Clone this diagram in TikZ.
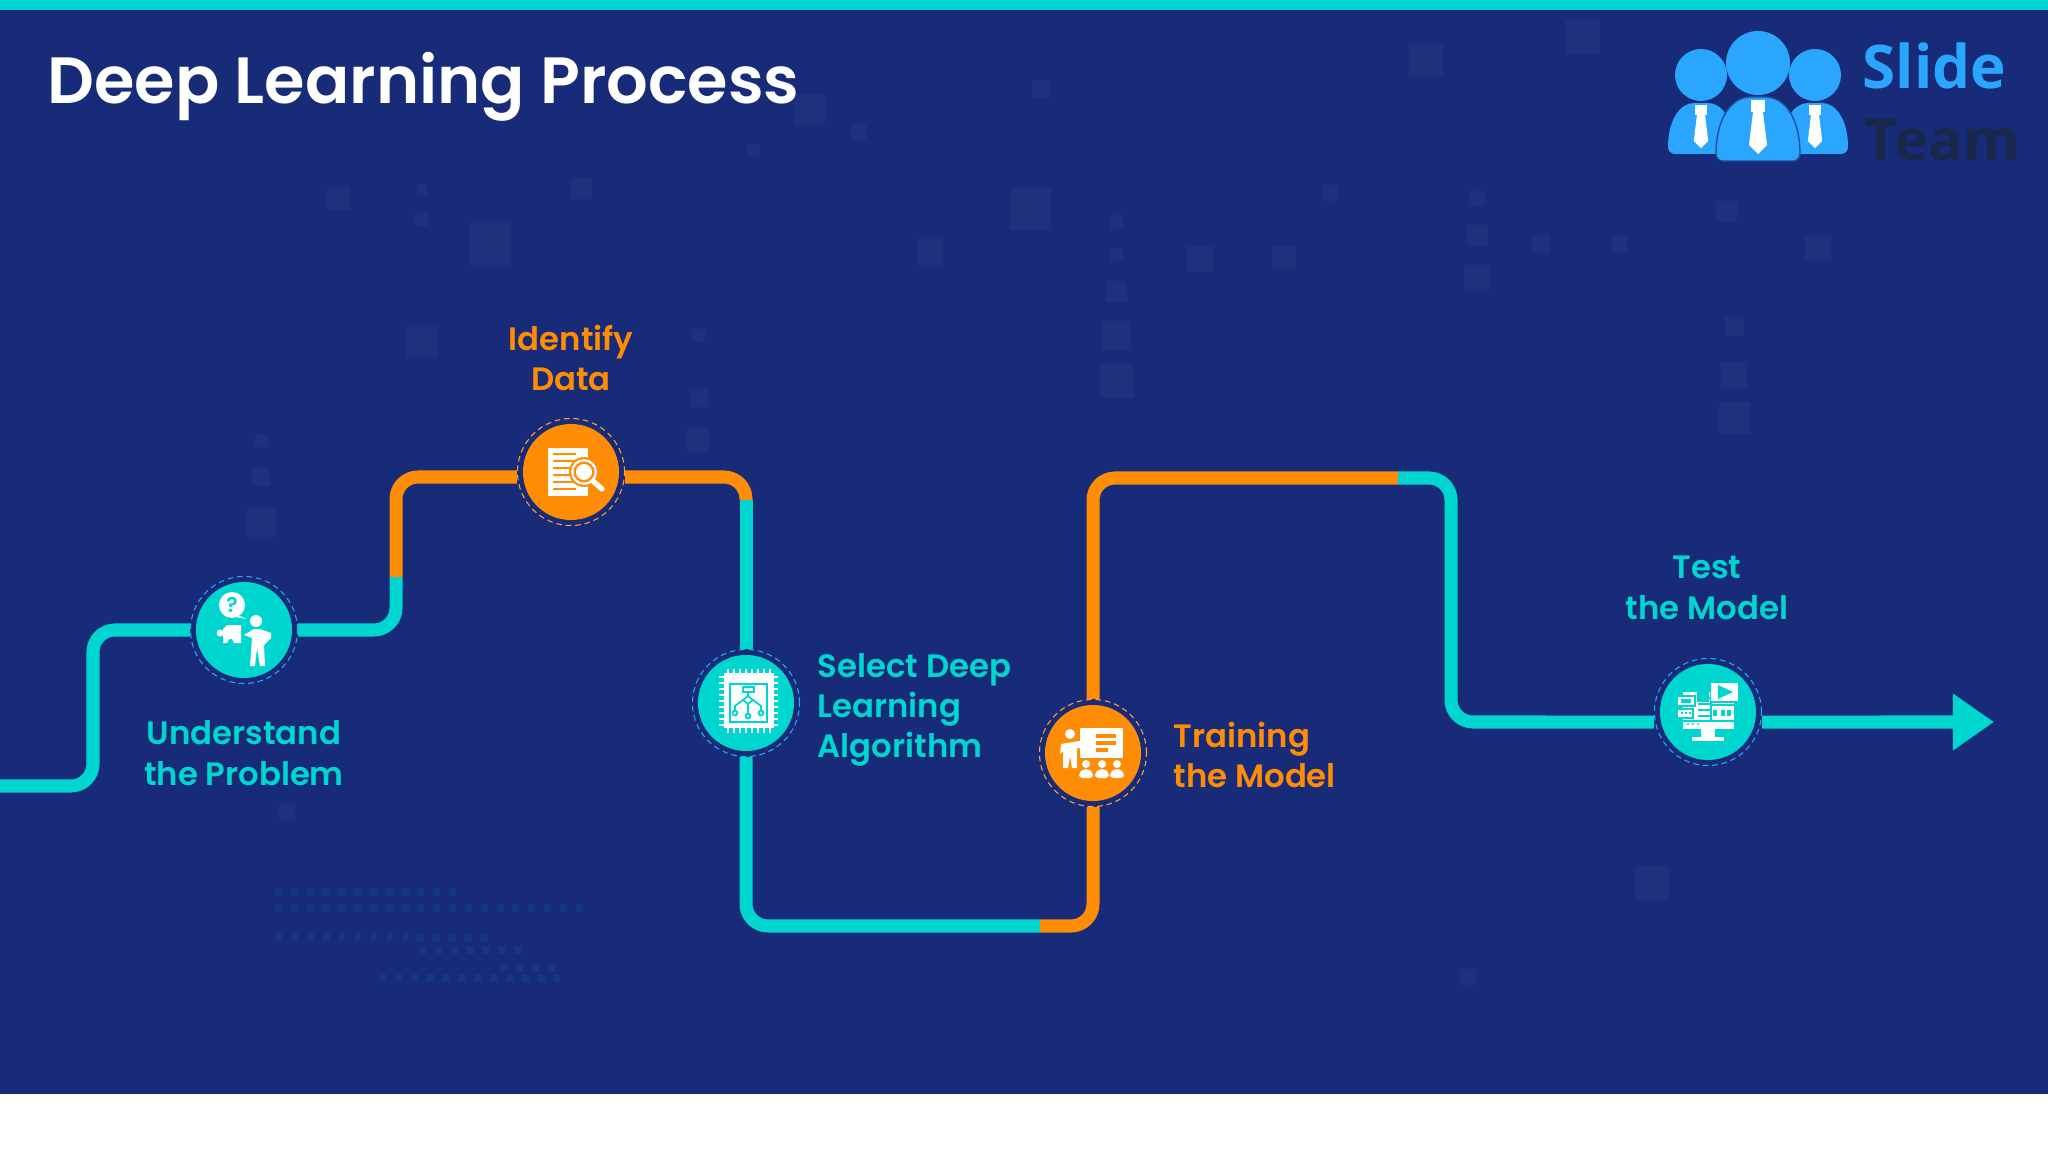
\documentclass[tikz,border=0pt]{standalone}
\usepackage{fontspec}
\setmainfont{Poppins}[UprightFont=* SemiBold]
\newfontfamily\logofont{Open Sans}[UprightFont=* Bold]
\usetikzlibrary{arrows.meta}
\definecolor{slidebg}{HTML}{172B78}
\definecolor{tealc}{HTML}{00D6D0}
\definecolor{orangec}{HTML}{FF8C05}
\definecolor{logoblue}{HTML}{2BA6FF}
\definecolor{logodark}{HTML}{18274A}
\tikzset{
  tealline/.style={draw=tealc, line width=0.13cm, rounded corners=0.22cm},
  orangeline/.style={draw=orangec, line width=0.13cm, rounded corners=0.22cm},
  ring/.style={circle, fill=slidebg, dash pattern=on 1.6pt off 1.1pt, line width=0.3pt, minimum size=1.07cm, inner sep=0pt},
  tealdot/.style={circle, fill=tealc, minimum size=0.96cm, inner sep=0pt},
  orangedot/.style={circle, fill=orangec, minimum size=0.96cm, inner sep=0pt},
  steplabel/.style={font=\fontsize{9.2}{11.5}\selectfont, align=center},
  bgsquare/.style={fill=white, fill opacity=0.03},
  icon/.style={fill=white, draw=none}
}
\begin{document}
\begin{tikzpicture}[x=0.01cm, y=-0.01cm]
\useasboundingbox (0,0) rectangle (2048,1152);
\fill[white] (0,0) rectangle (2048,1152);
\fill[slidebg] (0,0) rectangle (2048,1094);
\fill[tealc] (0,0) rectangle (2048,10);
% faint squares
\foreach \x/\y/\s in {1092/46/26,1212/28/26,789/160/32,919/198/20,983/197/18,323/261/24,375/187/32,259/152/18,620/84/24,657/101/12,577/115/10,797/68/14,1131/213/20,1131/180/16,1131/152/12,1322/162/16,1328/287/20,1328/320/24,1328/250/14,855/257/22,855/223/16,855/292/26,855/170/10,855/195/10,535/337/18,535/305/14,535/257/10,200/400/22,200/365/14,200/337/10,323/168/10,323/145/8,1265/676/26,1124/748/12,220/622/12,1240/187/12,1180/187/14,712/193/20,445/144/16,1018/148/12,1392/190/20}
  \fill[bgsquare] ({(\x-\s/2)*1.306},{(\y-\s/2)*1.306}) rectangle ++({\s*1.306},{\s*1.306});
% faint dots
\foreach \a/\b/\c in {275/460/892,275/590/908,275/490/937,420/530/950,500/560/968,380/560/978}
  \draw[tealc, opacity=0.07, line width=2pt, dash pattern=on 2pt off 2.5pt] (\a,\c) -- (\b,\c);

% title and logo
\node[anchor=west, text=white, font=\fontsize{18.6}{20}\selectfont] (title) at (35,87) {Deep Learning Process};
\fill[logoblue] (1701,75) circle (26) (1815,75) circle (26) (1758,63) circle (32);
\fill[logoblue, rounded corners=2pt] (1668,154) .. controls (1668,120) and (1680,103) .. (1701,103) .. controls (1722,103) and (1734,120) .. (1734,154) -- cycle;
\fill[logoblue, rounded corners=2pt] (1782,154) .. controls (1782,120) and (1794,103) .. (1815,103) .. controls (1836,103) and (1848,120) .. (1848,154) -- cycle;
\fill[logoblue, draw=slidebg!70!logoblue, rounded corners=2pt] (1716,161) .. controls (1716,120) and (1730,97) .. (1758,97) .. controls (1786,97) and (1800,120) .. (1800,161) -- cycle;
\foreach \tx/\ty/\tk in {1701/105/0.8,1815/105/0.8,1758/100/1} {
  \begin{scope}[shift={(\tx,\ty)}, scale=\tk]
    \fill[white] (-7,0) rectangle (7,12);
    \fill[white] (-5,12) -- (5,12) -- (9,45) -- (0,54) -- (-9,45) -- cycle;
  \end{scope}
}
\node[anchor=west, text=logoblue, font=\logofont\fontsize{17.1}{20}\selectfont, inner sep=0pt] (slide) at (1862,66) {Slide};
\node[anchor=west, text=logodark, font=\logofont\fontsize{16.4}{20}\selectfont, inner sep=0pt] (team) at (1864,140) {Team};

% steps
\node[ring, draw=logoblue] (n1) at (244,630) {};
\node[tealdot] (d1) at (n1) {};
\node[ring, draw=orangec!80!white] (n2) at (571,472) {};
\node[orangedot] (d2) at (n2) {};
\node[ring, draw=logoblue] (n3) at (746,703) {};
\node[tealdot] (d3) at (n3) {};
\node[ring, draw=orangec!80!white] (n4) at (1093,753) {};
\node[orangedot] (d4) at (n4) {};
\node[ring, draw=logoblue] (n5) at (1708,712) {};
\node[tealdot] (d5) at (n5) {};

\coordinate (start) at (0,786);
\coordinate (c1) at (93,630);
\coordinate (split1) at (396,577);
\coordinate (c2) at (396,477);
\coordinate (split2) at (746,500);
\coordinate (split3) at (1040,926);
\coordinate (split4) at (1398,478);
\coordinate (c5) at (1451,722);
\coordinate (tip) at (1994,722);

\draw[tealline] (start) -| (c1) -- (n1);
\draw[tealline] (n1) -| (split1);
\draw[orangeline] (split1) -- (c2) -- ([yshift=-0.05cm]n2.west);
\draw[orangeline] ([yshift=-0.05cm]n2.east) -| (split2);
\draw[tealline] (split2) -- (n3);
\draw[tealline] (n3) |- (split3);
\draw[orangeline] (split3) -| (n4);
\draw[orangeline] (n4) |- (split4);
\draw[tealline] (split4) -| (c5) -- ([yshift=-0.1cm]n5.west);
\draw[draw=tealc, line width=0.13cm, -{Triangle[length=0.41cm, width=0.54cm]}] ([yshift=-0.1cm]n5.east) -- (tip);

% labels
\node[steplabel, text=orangec] (l2) at (571,358) {Identify\\Data};
\node[steplabel, text=tealc] (l1) at (244,753) {Understand\\the Problem};
\node[steplabel, text=tealc, anchor=west, align=left, inner sep=0pt] (l3) at (817,710) {Select Deep\\Learning\\Algorithm};
\node[steplabel, text=orangec, anchor=west, align=left, inner sep=0pt] (l4) at (1173,755) {Training\\the Model};
\node[steplabel, text=tealc] (l5) at (1707,588) {Test\\the Model};

% icon 1
\begin{scope}[shift={(n1.center)}]
  \fill[icon] (-12,-25) circle (13) (-4,-14) -- (2,-11) -- (-9,-13) -- cycle;
  \node[text=tealc, font=\fontsize{6}{6}\selectfont, inner sep=0pt] (q) at (-12,-25) {?};
  \fill[icon] (12,-9) circle (6);
  \fill[icon] (0,5) -- (10,-1) -- (16,-1) -- (27,3) -- (27,8) -- (20,15) -- (21,36) -- (16,36) -- (13,18) -- (11,36) -- (6,36) -- (8,8) -- cycle;
  \fill[icon] (-17,-5) -- (-3,-5) -- (-3,13) -- (-10,13) -- (-12,9) -- (-15,9) -- (-17,13) -- (-21,13) -- (-21,-1) -- cycle;
  \fill[icon] (-24,3) circle (3.5);
\end{scope}
% icon 2
\begin{scope}[shift={(n2.center)}]
  \fill[icon] (-23,-24) rectangle (17,24);
  \foreach \yy in {-18,-11,-4,3,10,17}
    \draw[orangec, line width=0.6pt] (-18,\yy) -- (5,\yy);
  \fill[orangec] (13,0) circle (15);
  \fill[icon] (13,0) circle (13);
  \fill[orangec] (13,0) circle (10.5);
  \fill[icon] (13,0) circle (8);
  \draw[white, line width=1.5pt, line cap=round] (22,9) -- (31,17);
\end{scope}
% icon 3
\begin{scope}[shift={(n3.center)}]
  \fill[icon] (-22,-30) rectangle (28,25);
  \foreach \pp in {-18,-12,...,24} {
    \draw[white, line width=0.6pt] (\pp,25) -- (\pp,30) (\pp,-30) -- (\pp,-34);
  }
  \foreach \pp in {-26,-20,...,22} {
    \draw[white, line width=0.6pt] (-22,\pp) -- (-27,\pp) (28,\pp) -- (32,\pp);
  }
  \fill[tealc] (-17,-20) rectangle (22,20);
  \fill[icon] (-15,-18) rectangle (20,18);
  \draw[tealc, line width=0.5pt] (-3,-16) rectangle (8,-11) (2,-11) -- (2,-7) (2,-7) -- (7,-3) -- (2,1) -- (-3,-3) -- cycle (-3,-3) -- (-11,3) -- (-11,8) (7,-3) -- (15,3) -- (15,8) (2,1) -- (2,11);
  \draw[tealc, line width=0.5pt] (-11,10) circle (2.5) (15,10) circle (2.5) (2,13) circle (2.5);
\end{scope}
% icon 4
\begin{scope}[shift={(n4.center)}]
  \fill[icon] (-23,-19) circle (5);
  \fill[icon] (-32,-9) -- (-14,-12) -- (-6,-8) -- (-6,-4) -- (-16,-5) -- (-16,15) -- (-21,15) -- (-23,3) -- (-25,15) -- (-30,15) -- (-30,-2) -- (-33,1) -- cycle;
  \fill[icon] (-13,-25) rectangle (30,5);
  \draw[orangec, line width=1.1pt] (3,-17) -- (23,-17) (3,-10) -- (23,-10) (3,-3) -- (15,-3);
  \foreach \px in {-7,9,24} {
    \fill[icon] (\px,11) circle (4);
    \fill[icon, rounded corners=1pt] (\px-7,25) -- (\px-7,20) -- (\px-3,16) -- (\px+3,16) -- (\px+7,20) -- (\px+7,25) -- cycle;
  }
\end{scope}
% icon 5
\begin{scope}[shift={(n5.center)}]
  \fill[icon] (-25,-20) rectangle (26,17);
  \fill[tealc] (-11,-20) rectangle (1,-10);
  \fill[icon] (-7,17) rectangle (7,25);
  \fill[icon] (-16,25) rectangle (16,29);
  \draw[tealc, line width=0.5pt] (-25,9) -- (26,9);
  \foreach \yy in {-14,-8,-2,4}
    \draw[tealc, line width=0.5pt] (-10,\yy) -- (3,\yy);
  \draw[tealc, line width=0.5pt] (3,-20) -- (3,9) (3,-7) -- (26,-7);
  \foreach \px in {7,15,21}
    \fill[tealc] (\px-2,-2) rectangle (\px+2,4);
  \fill[tealc] (-20,12) circle (1.2) (-15,12) circle (1.2) (-10,12) circle (1.2);
  \fill[tealc] (-32,-17) rectangle (-12,-5);
  \fill[icon] (-30,-15) rectangle (-14,-7);
  \fill[tealc] (-27,-13) rectangle (-17,-9);
  \fill[tealc] (-32,-4) rectangle (-14,7);
  \fill[icon] (-30,-2) rectangle (-16,5);
  \foreach \px in {-27,-23,-19}
    \fill[tealc] (\px,0) rectangle ++(2,2);
  \fill[tealc] (2,-30) rectangle (31,-9);
  \fill[icon] (3,-29) rectangle (30,-11);
  \fill[tealc] (10,-27) -- (25,-20) -- (10,-13) -- cycle;
\end{scope}
\end{tikzpicture}
\end{document}
